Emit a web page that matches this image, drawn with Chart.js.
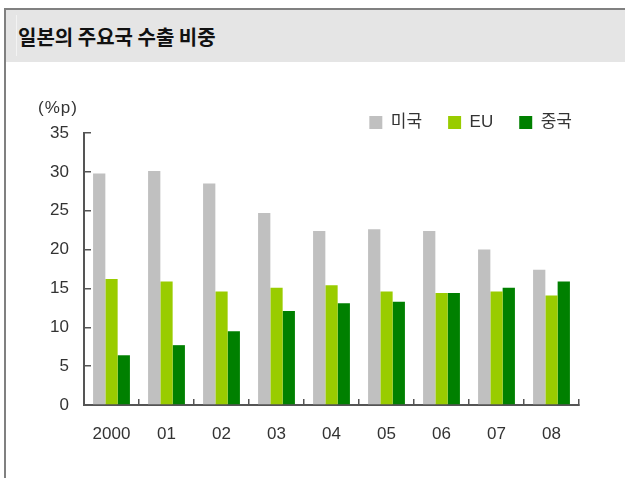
<!DOCTYPE html>
<html>
<head>
<meta charset="utf-8">
<script src="https://cdn.jsdelivr.net/npm/chart.js@4"></script>
<style>
  body { margin: 0; background: #fff; }
  #wrap { position: relative; width: 625px; height: 478px; overflow: hidden; }
  #frame { position: absolute; left: 4px; top: 8px; right: -4px; bottom: -4px; border-top: 2px solid #808080; border-left: 2px solid #808080; }
  #band { position: absolute; left: 6px; top: 10px; right: 0; height: 52px; background: #e5e5e5; }
  #band i { position: absolute; left: 10px; top: 5px; width: 1px; height: 41px; background: #f3f3f3; }
  #band span { position: absolute; left: 12px; top: 0; font: bold 20px "Noto Sans CJK KR", sans-serif; line-height: 54px; color: #111; }
  canvas { position: absolute; left: 0; top: 0; }
</style>
</head>
<body>
<div id="wrap">
  <div id="frame"></div>
  <div id="band"><i></i><span>일본의 주요국 수출 비중</span></div>
  <canvas id="chart" width="625" height="478"></canvas>
</div>
<script>
const years = ['2000', '01', '02', '03', '04', '05', '06', '07', '08'];
const usa = [29.8, 30.1, 28.5, 24.7, 22.4, 22.6, 22.4, 20.0, 17.4];
const eu = [16.2, 15.9, 14.6, 15.1, 15.4, 14.6, 14.4, 14.6, 14.1];
const china = [6.4, 7.7, 9.5, 12.1, 13.1, 13.3, 14.4, 15.1, 15.9];
const unitLabel = '(%p)';

const axisColor = '#555';
const textColor = '#333';
const fontFamily = '"Liberation Sans", "Noto Sans CJK KR", sans-serif';

// moves the legend next to the plot top and writes the unit label
const extras = {
    id: 'extras',
    afterLayout(chart) {
        const lg = chart.legend;
        lg.top += 8; lg.bottom += 8;
        lg.left += 19; lg.right += 19;
    },
    afterDraw(chart) {
        const ctx = chart.ctx;
        ctx.save();
        ctx.font = '17px ' + fontFamily;
        ctx.fillStyle = textColor;
        ctx.textBaseline = 'middle';
        ctx.letterSpacing = '1px';
        ctx.fillText(unitLabel, 38, 108);
        ctx.restore();
    }
};

new Chart(document.getElementById('chart'), {
    type: 'bar',
    data: {
        labels: years,
        datasets: [
            { label: '미국', data: usa, backgroundColor: '#c0c0c0' },
            { label: 'EU', data: eu, backgroundColor: '#99cc00' },
            { label: '중국', data: china, backgroundColor: '#008000' }
        ]
    },
    options: {
        responsive: false,
        animation: false,
        layout: { padding: { top: 80, left: 38, right: 46, bottom: 33 } },
        datasets: { bar: { categoryPercentage: 0.67, barPercentage: 1, borderWidth: 0 } },
        plugins: {
            legend: {
                position: 'top',
                align: 'end',
                labels: {
                    boxWidth: 13,
                    boxHeight: 13,
                    padding: 26,
                    color: textColor,
                    font: { size: 17, family: fontFamily }
                }
            },
            tooltip: { enabled: false }
        },
        scales: {
            x: {
                afterFit: s => { s.height = 40; },
                border: { color: axisColor, width: 2 },
                grid: { drawOnChartArea: false, offset: true, tickLength: -6, color: axisColor, lineWidth: 1.5 },
                ticks: { color: textColor, padding: 25, font: { size: 17, family: fontFamily } }
            },
            y: {
                min: 0,
                max: 35,
                afterFit: s => { s.width = 46; },
                border: { color: axisColor, width: 2 },
                grid: { drawOnChartArea: false, tickLength: -7, color: axisColor, lineWidth: 1.5 },
                ticks: { stepSize: 5, color: textColor, padding: 22, font: { size: 17, family: fontFamily } }
            }
        }
    },
    plugins: [extras]
});
</script>
</body>
</html>
